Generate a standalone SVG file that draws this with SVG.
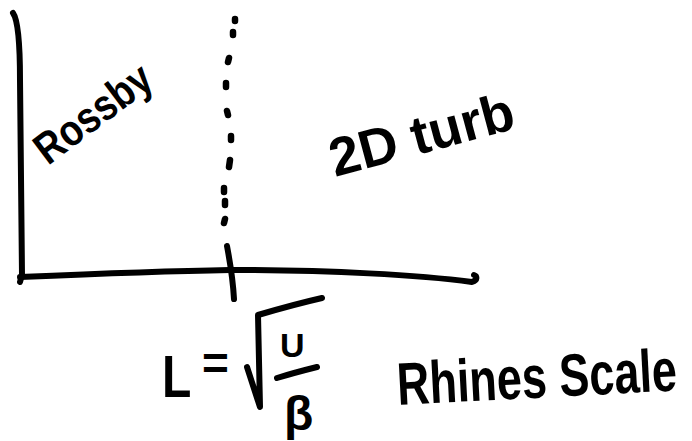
<svg xmlns="http://www.w3.org/2000/svg" width="692" height="441" viewBox="0 0 692 441">
<style>
.ink{fill:none;stroke:#000;stroke-width:6;stroke-linecap:round;stroke-linejoin:round}
.dot{fill:none;stroke:#000;stroke-width:6.5;stroke-linecap:round}
.t{font-family:"Liberation Sans","DejaVu Sans",sans-serif;font-weight:bold;fill:#000}
</style>
<rect width="692" height="441" fill="#fff"/>
<g id="axes">
<path class="ink" d="M13,13 C18,20 20,40 20,80 L22,275 L20,282"/>
<path class="ink" d="M20,277 C90,274 170,271 230,270 C330,270 420,275 472,282 C478,280 477,276 474,275"/>
</g>
<g id="connectors">
<path class="dot" d="M235,19 L235,21 M233,32 L233,35 M229,58 L228,62 M226,83 L226,87 M227,111 L228,115 M231,136 L231,140 M230,160 L229,167 M224,188 L224,192 M225,201 L225,205 M225,219 L224,223"/>
<path class="ink" d="M227,246 C230,262 233,280 234,299"/>
</g>
<g id="rossby">
<text class="t" font-size="44" transform="translate(48,166) rotate(-37) scale(0.85,1)">Rossby</text>
</g>
<g id="turb2d">
<text class="t" font-size="54" transform="translate(335,177) rotate(-15)">2D turb</text>
</g>
<g id="formula">
<text class="t" font-size="60" transform="translate(162,397) scale(0.8,1)">L</text>
<text class="t" font-size="46" x="202" y="379">=</text>
<path class="ink" d="M247,367 L260,407 L258,315 C275,310 300,303 322,298"/>
<text class="t" font-size="34" x="280" y="357">U</text>
<path class="ink" d="M277,378 C290,374 305,370 317,367"/>
<text class="t" font-size="48" x="284" y="430">β</text>
</g>
<g id="rhines">
<text class="t" font-size="60" transform="translate(398,405) rotate(-3) scale(0.75,1)">Rhines Scale</text>
</g>
</svg>
